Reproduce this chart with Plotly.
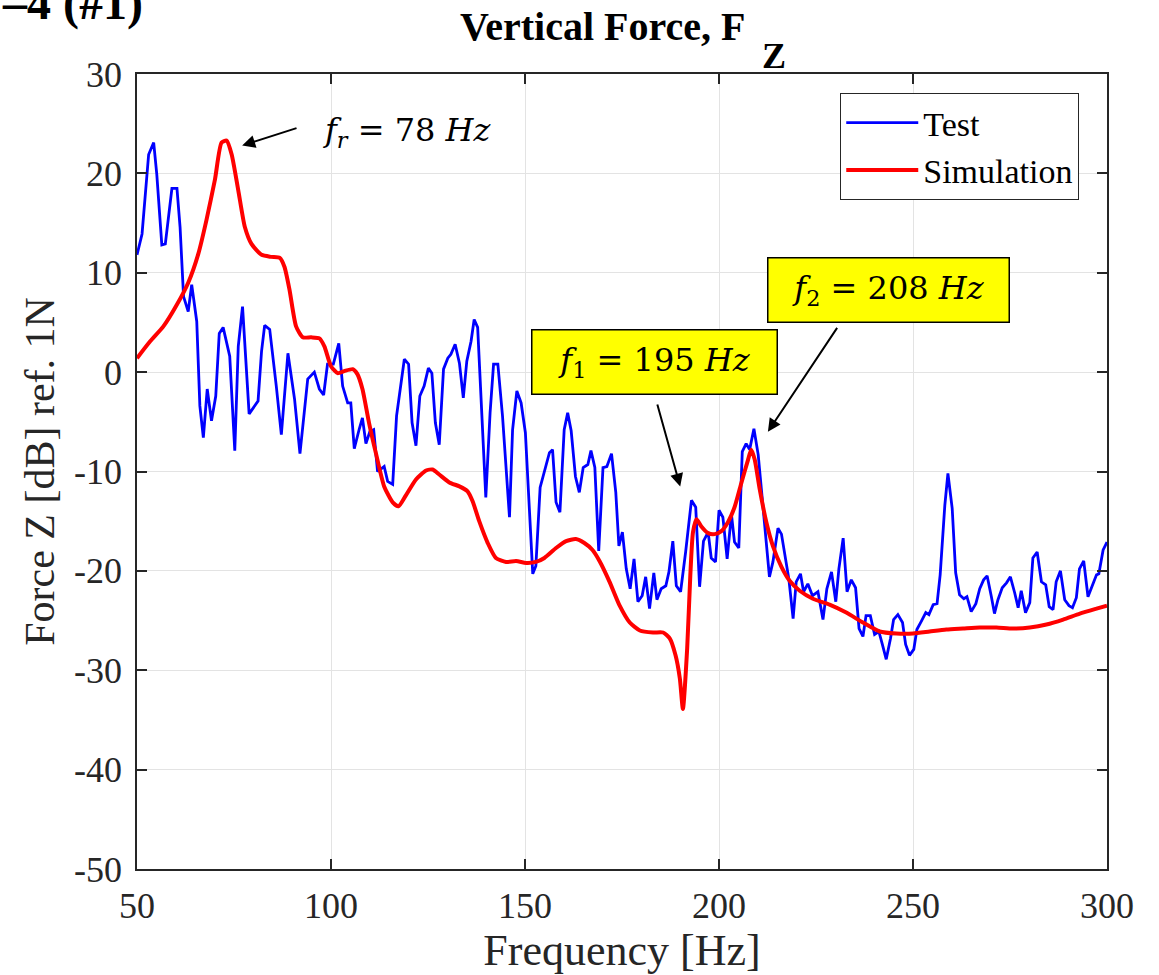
import plotly.graph_objects as go

test_freq = [50, 51.3, 53, 54.3, 55.1, 56.4, 57.3, 59, 60.3, 61.1, 62, 63.2, 64.1, 65.4, 66.2, 67.1, 68.1, 69.2, 70.3, 71.2,
             72.2, 73.9, 75.2, 76.1, 77.2, 78.9, 81.2, 82.1, 82.9, 84.2, 85.9, 87.2, 88.9, 90.6, 92, 94, 95.7, 97, 98.1, 99.1,
             100.6, 102, 103, 104.3, 105.1, 106, 107.3, 108.1, 109, 110, 111, 112, 113.7, 114.6, 115.9, 116.9, 118.9, 120, 120.9, 121.9,
             122.9, 124, 125.1, 126, 126.9, 127.9, 129, 130.1, 130.9, 132, 133.1, 134.1, 135, 136.1, 136.9, 137.8, 139.9, 141, 141.9, 143,
             144.2, 146, 146.8, 147.9, 149, 150.1, 152, 152.8, 153.9, 155, 156.3, 157.1, 158, 159, 160.1, 161, 161.9, 163, 164, 165,
             166.2, 167, 168, 169, 170.1, 171.1, 172.3, 173.4, 174.2, 175.1, 176.1, 177.1, 178.1, 179.1, 180.2, 181.1, 182.1, 183.2, 184, 185.1,
             186.3, 187.1, 188.1, 189, 190.1, 191.4, 192.9, 194, 195, 196, 197.2, 198, 199.1, 200, 201, 202.1, 203.2, 204, 205.1, 206,
             207, 207.9, 209, 210.1, 211.3, 213, 213.9, 215.2, 216.1, 217.4, 218, 219.1, 219.9, 221, 221.8, 222.9, 224.1, 225.5, 226.8, 227.8,
             229, 230.1, 230.9, 232, 233, 234.1, 235.2, 236.1, 237.1, 237.9, 239, 240.1, 241.2, 242.1, 243.1, 244.2, 245, 246.1, 247.3, 248.1,
             249.1, 250.2, 251, 252.1, 253.3, 254.1, 255.2, 256.2, 257, 258.2, 259, 260.1, 261, 262, 263.1, 263.9, 265, 266.2, 267.2, 268.2,
             269.1, 270.2, 271, 271.9, 273, 274.1, 275.1, 276.2, 277.1, 277.9, 279, 280.1, 280.9, 282, 283.1, 284.2, 285.1, 286.1, 286.9, 288,
             289.1, 290.2, 291.1, 292.1, 292.9, 294, 295.1, 296.2, 297.3, 297.9, 299, 300]
test_db = [11.8, 13.9, 21.9, 23.1, 19.9, 12.8, 12.9, 18.5, 18.5, 14.6, 7.6, 6.1, 8.8, 5.1, -3.4, -6.6, -1.7, -4.9, -2.4, 3.9,
           4.5, 1.6, -7.9, 2.6, 6.6, -4.2, -2.9, 2.1, 4.7, 4.3, -1.4, -6.3, 1.9, -2.7, -8.2, -0.7, 0, -1.7, -2.3, 0.8,
           0.8, 2.9, -1.4, -3.1, -3.1, -7.7, -5.7, -4.6, -7.2, -6.0, -5.8, -10, -9.5, -11, -11.3, -4.4, 1.3, 0.8, -5.1, -7.4,
           -2.4, -1.4, 0.4, -0.1, -5.1, -7.3, 0.3, 1.4, 1.8, 2.8, 0.9, -2.6, 1.1, 3.1, 5.3, 4.5, -12.6, -4.1, 0.8, 0.8,
           -4.4, -14.6, -5.8, -1.9, -3.1, -6.1, -20.3, -19.5, -11.6, -9.9, -8.1, -7.8, -13.1, -14.1, -5.8, -4.1, -5.9, -10.5, -12.1, -9.6,
           -9.3, -7.9, -9.6, -18, -9.6, -9.5, -8.2, -12.1, -17.5, -16.1, -19.8, -21.8, -18.8, -23.1, -22.5, -20.6, -23.8, -20.2, -22.9, -21.8,
           -21.5, -20.1, -17, -21.5, -22.1, -18.1, -12.9, -13.6, -21.6, -17, -16.1, -18.7, -19.1, -13.9, -14.6, -18.8, -14.3, -17.1, -17.7, -8,
           -7.2, -7.8, -5.7, -8.3, -13.4, -20.6, -19.1, -15.7, -16.3, -19.1, -20.8, -24.8, -21.1, -20.3, -22.1, -21.3, -22.5, -22.1, -24.9, -21.8,
           -20.1, -23.1, -19.8, -16.7, -22.1, -20.9, -21.7, -25.8, -26.6, -24.5, -24.5, -26.4, -26.1, -27.4, -28.9, -26.8, -24.9, -24.4, -25.2, -27.4,
           -28.5, -27.9, -25.9, -25.1, -24.2, -24.4, -23.4, -23.3, -20.4, -13.4, -10.2, -13.7, -20.2, -22.4, -22.8, -22.6, -24.1, -23.3, -21.8, -20.9,
           -20.5, -22.6, -24.3, -22.9, -21.7, -21.2, -20.6, -22.2, -23.7, -22, -24.2, -23.2, -18.7, -18.1, -21.1, -21.4, -23.6, -23.9, -21.1, -20,
           -22.9, -23.5, -23.7, -22.7, -19.8, -19, -22.6, -21.5, -20.4, -20.3, -17.9, -17.1]

sim_freq = [50, 53.4, 56.8, 60.3, 63.2, 65.8, 67.9, 70.1, 71.8, 73.1, 74.4, 76.1, 77.8, 79.5, 82.1, 84.6, 86.8, 88, 89.3, 91,
            92.7, 94.9, 97, 98.3, 100, 101.7, 103.4, 105.6, 106.8, 108.1, 109.8, 111.6, 113.7, 115.9, 117.4, 119.3, 121.9, 124.5, 126.2, 127.9,
            130.5, 133.1, 135.2, 136.5, 138.2, 140.4, 142.5, 145.1, 147.7, 150.3, 152.8, 155, 158, 160.6, 163.1, 165.3, 167.4, 169.2, 171.8, 174.4,
            177, 179.6, 183, 185.6, 187.3, 188.8, 189.9, 190.7, 191.8, 192.6, 193.3, 194.2, 195.4, 197.2, 198.9, 200.6, 202.3, 204, 205.8, 207.5,
            208.3, 209.2, 210.5, 212.2, 213.9, 216.1, 218.2, 220.8, 224.2, 228.5, 232.8, 237.1, 241.4, 245.7, 250, 254.3, 258.6, 262.9, 267.2, 271.5,
            275.8, 280.1, 284.4, 288.7, 293, 297.3, 300]
sim_db = [1.4, 3.1, 4.6, 6.8, 9, 11.9, 15.3, 19.4, 23.1, 23.3, 21.9, 18.3, 14.6, 12.9, 11.8, 11.6, 11.5, 10.6, 8.3, 4.6,
          3.5, 3.5, 3.4, 2.6, 0.6, -0.1, 0.1, 0.3, -0.2, -1.7, -5.1, -8.2, -11.5, -13.1, -13.5, -12.4, -10.8, -9.9, -9.8, -10.3,
          -11.1, -11.5, -12, -13, -15, -17.2, -18.7, -19.1, -19, -19.2, -19.1, -18.7, -17.7, -17, -16.8, -17.2, -17.9, -19, -21.1, -23.5,
          -25.2, -26, -26.2, -26.2, -26.8, -28.5, -30.8, -33.9, -27.8, -20.5, -16.1, -14.8, -15.5, -16.2, -16.3, -16, -15.1, -13.6, -11.1, -8.8,
          -7.8, -8.8, -11.8, -15.1, -17.5, -19.6, -21, -22, -22.8, -23.4, -24.2, -25.2, -26.1, -26.3, -26.3, -26.1, -25.9, -25.8, -25.7, -25.7,
          -25.8, -25.7, -25.4, -24.9, -24.3, -23.8, -23.5]

x_ticks = [50, 100, 150, 200, 250, 300]
y_ticks = [-50, -40, -30, -20, -10, 0, 10, 20, 30]

SERIF = "Liberation Serif"
MATH = "DejaVu Serif"

fig = go.Figure()
fig.add_trace(go.Scatter(x=test_freq, y=test_db, mode="lines", name="Test",
                         line=dict(color="#0000ff", width=2.8)))
fig.add_trace(go.Scatter(x=sim_freq, y=sim_db, mode="lines", name="Simulation",
                         line=dict(color="#ff0000", width=4, shape="spline", smoothing=0.6)))

axis_common = dict(showline=True, linecolor="#262626", linewidth=1.5, mirror="ticks",
                   ticks="inside", ticklen=10, tickwidth=1.5, tickcolor="#262626",
                   showgrid=True, gridcolor="#e3e3e3", gridwidth=1, zeroline=False,
                   tickfont=dict(family=SERIF, size=36, color="#262626"))

fig.update_xaxes(range=[50, 300], tickvals=x_ticks, ticktext=[str(v) for v in x_ticks],
                 ticklabelstandoff=4,
                 title=dict(text="Frequency [Hz]", font=dict(family=SERIF, size=44, color="#262626"), standoff=2),
                 **axis_common)
fig.update_yaxes(range=[-50, 30], tickvals=y_ticks, ticktext=[str(v) for v in y_ticks],
                 ticklabelstandoff=6,
                 title=dict(text="Force Z [dB] ref. 1N", font=dict(family=SERIF, size=42, color="#262626"), standoff=6),
                 **axis_common)

annotations = [
    dict(text="<b>Vertical Force, F</b>", xref="paper", yref="paper", x=0.629, y=1.060,
         xanchor="right", yanchor="middle", showarrow=False,
         font=dict(family=SERIF, size=40, color="#000000")),
    dict(text="<b>Z</b>", xref="paper", yref="paper", x=0.642, y=1.0226,
         xanchor="left", yanchor="middle", showarrow=False,
         font=dict(family=SERIF, size=36, color="#000000")),
    dict(text="<b>–4 (#1)</b>", xref="paper", yref="paper", x=-0.1412, y=1.089, xanchor="left", yanchor="middle",
         showarrow=False, font=dict(family=SERIF, size=48, color="#000000")),
    # f_r label and arrow
    dict(text="<i>f<sub>r</sub></i> = 78 <i>Hz</i>", x=119.6, y=24.2, xref="x", yref="y", showarrow=False,
         font=dict(family=MATH, size=32, color="#000000")),
    dict(text="", x=77.1, y=22.8, ax=91.5, ay=24.6, xref="x", yref="y", axref="x", ayref="y",
         showarrow=True, arrowhead=2, arrowsize=1.3, arrowwidth=2, arrowcolor="#000000"),
    # f_1 box and arrow
    dict(text="<i>f</i><sub>1</sub> = 195 <i>Hz</i>", x=183.4, y=1.0, xref="x", yref="y", showarrow=False,
         bgcolor="#ffff00", bordercolor="#000000", borderwidth=1.5, borderpad=1, width=242, height=61,
         font=dict(family=MATH, size=32, color="#000000")),
    dict(text="", x=190.0, y=-11.5, ax=184.0, ay=-3.1, xref="x", yref="y", axref="x", ayref="y",
         showarrow=True, arrowhead=2, arrowsize=1.3, arrowwidth=2, arrowcolor="#000000"),
    # f_2 box and arrow
    dict(text="<i>f</i><sub>2</sub> = 208 <i>Hz</i>", x=243.8, y=8.3, xref="x", yref="y", showarrow=False,
         bgcolor="#ffff00", bordercolor="#000000", borderwidth=1.5, borderpad=1, width=238, height=61,
         font=dict(family=MATH, size=32, color="#000000")),
    dict(text="", x=212.6, y=-6.0, ax=230.7, ay=4.6, xref="x", yref="y", axref="x", ayref="y",
         showarrow=True, arrowhead=2, arrowsize=1.3, arrowwidth=2, arrowcolor="#000000"),
]

fig.update_layout(
    width=1159, height=975,
    margin=dict(l=137, r=52, t=74, b=106),
    paper_bgcolor="white", plot_bgcolor="white",
    showlegend=True,
    legend=dict(x=0.725, y=0.976, xanchor="left", yanchor="top",
                bgcolor="white", bordercolor="#262626", borderwidth=1,
                font=dict(family=SERIF, size=34, color="#000000"),
                tracegroupgap=0, itemwidth=72),
    annotations=annotations,
)

fig.write_html("out.html")
